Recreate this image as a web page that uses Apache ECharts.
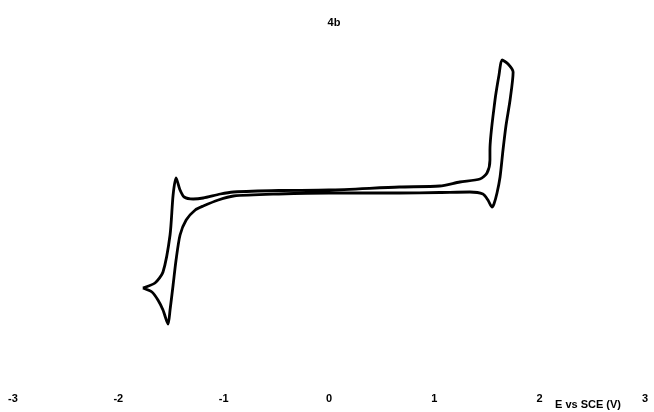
<!DOCTYPE html>
<html>
<head>
<meta charset="utf-8">
<script src="https://cdn.jsdelivr.net/npm/echarts@6/dist/echarts.min.js"></script>
<style>html,body{margin:0;padding:0;background:#fff}#c{width:654px;height:412px}</style>
</head>
<body>
<div id="c"></div>
<script>
var chartTitle = "4b";
var xAxisName = "E vs SCE (V)";
var xTicks = [-3, -2, -1, 0, 1, 2, 3];

// Cyclic voltammogram, potential (V vs SCE) in scan order
var potential = [
  -1.767, -1.652, -1.576, -1.509, -1.480, -1.452, -1.414, -1.375, -1.289, -1.194,
  -1.032, -0.907, -0.478, 0.000, 0.669, 1.051, 1.242, 1.433, 1.500, 1.528,
  1.528, 1.576, 1.614, 1.643, 1.700, 1.748,
  1.719, 1.681, 1.652, 1.624, 1.595, 1.566, 1.547, 1.509, 1.461, 1.337,
  1.051, 0.669, 0.000, -0.478, -0.907, -1.051, -1.194, -1.270, -1.356, -1.414,
  -1.452, -1.480, -1.509, -1.528, -1.576, -1.624, -1.681, -1.767
];
// Current (arbitrary units) in the same order
var current = [
  -10.3, -9.8, -8.7, -5.0, -1.0, 0.7, -0.5, -1.2, -1.4, -1.3,
  -0.9, -0.7, -0.55, -0.5, -0.2, -0.1, 0.3, 0.6, 1.2, 2.5,
  3.5, 8.5, 11.0, 12.5, 12.1, 11.3,
  8.5, 6.0, 3.5, 0.8, -0.8, -1.9, -2.2, -1.5, -0.9, -0.7,
  -0.75, -0.8, -0.8, -0.9, -1.1, -1.5, -2.1, -2.5, -3.5, -5.0,
  -7.5, -10.0, -12.5, -13.9, -12.5, -11.5, -10.7, -10.3
];

var pts = potential.map(function (e, i) { return [e, current[i]]; });

var chart = echarts.init(document.getElementById('c'), null, {renderer: 'canvas'});
chart.setOption({
  animation: false,
  backgroundColor: '#ffffff',
  title: {
    text: chartTitle, left: 329, top: 12, textAlign: 'center',
    textStyle: {fontFamily: 'Liberation Sans', fontWeight: 'bold', fontSize: 11, color: '#000'}
  },
  grid: {left: 13, right: 9, top: 35, bottom: 27},
  xAxis: {
    type: 'value', min: xTicks[0], max: xTicks[xTicks.length - 1], interval: 1,
    axisLine: {show: false}, axisTick: {show: false}, splitLine: {show: false},
    axisLabel: {margin: 8, fontFamily: 'Liberation Sans', fontWeight: 'bold', fontSize: 11, color: '#000'}
  },
  yAxis: {
    type: 'value', min: -20, max: 15, show: false, splitLine: {show: false}
  },
  graphic: [{
    type: 'text', left: 555, top: 399,
    style: {text: xAxisName, fontFamily: 'Liberation Sans', fontWeight: 'bold', fontSize: 11, fill: '#000'}
  }],
  series: [{
    type: 'line', data: pts, showSymbol: false, smooth: 0.25,
    lineStyle: {color: '#000', width: 2.8}
  }]
});
</script>
</body>
</html>
